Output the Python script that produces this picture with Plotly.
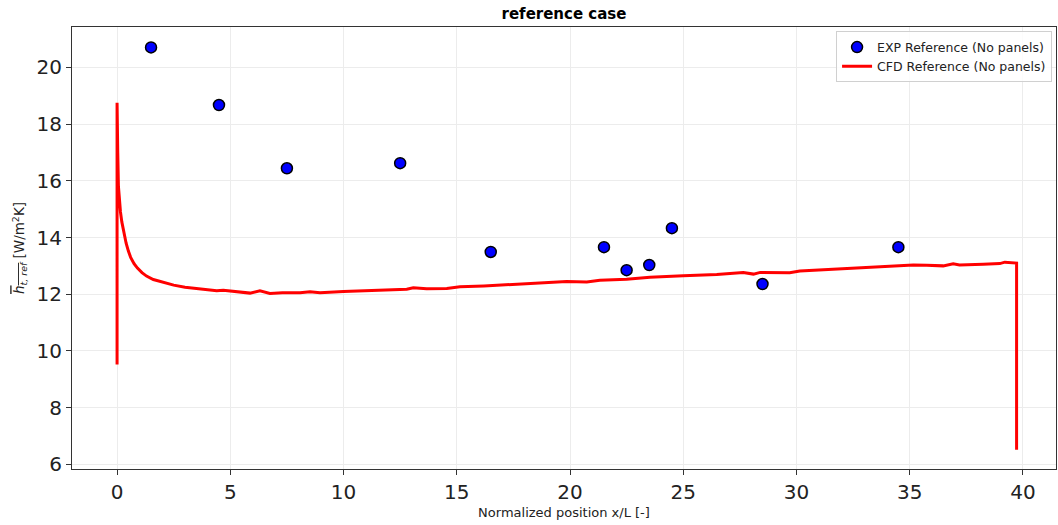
import plotly.graph_objects as go

# Experimental reference measurements (no panels)
exp_x = [1.5, 4.5, 7.5, 12.5, 16.5, 21.5, 22.5, 23.5, 24.5, 28.5, 34.5]
exp_h = [20.70, 18.67, 16.44, 16.62, 13.49, 13.66, 12.85, 13.03, 14.33, 12.36, 13.66]

# CFD reference profile (no panels)
cfd_x = [0.0, 0.0, 0.03, 0.06, 0.10, 0.15, 0.21, 0.30, 0.40, 0.50, 0.60, 0.75, 0.90,
         1.10, 1.30, 1.60, 2.00, 2.50, 3.00, 3.50, 4.00, 4.40, 4.69, 5.28, 5.87, 6.31,
         6.75, 7.30, 8.08, 8.52, 8.96, 10.0, 11.0, 12.0, 12.79, 13.08, 13.67, 14.56,
         15.14, 16.2, 16.9, 17.35, 18.37, 19.3, 19.85, 20.74, 21.32, 22.5, 23.53, 25.0,
         26.48, 27.65, 28.1, 28.4, 28.83, 29.7, 30.15, 31.2, 32.36, 34.1, 35.16, 35.75,
         36.48, 36.92, 37.2, 38.25, 38.98, 39.2, 39.56, 39.72, 39.72]
cfd_h = [9.52, 18.75, 17.00, 15.80, 15.30, 14.90, 14.55, 14.15, 13.80, 13.52, 13.30,
         13.08, 12.92, 12.76, 12.64, 12.52, 12.42, 12.32, 12.25, 12.20, 12.16, 12.12,
         12.14, 12.09, 12.04, 12.12, 12.03, 12.05, 12.05, 12.09, 12.05, 12.10, 12.12,
         12.15, 12.18, 12.23, 12.19, 12.20, 12.26, 12.29, 12.32, 12.34, 12.39, 12.42,
         12.45, 12.43, 12.49, 12.53, 12.60, 12.65, 12.70, 12.77, 12.71, 12.77, 12.77,
         12.76, 12.82, 12.86, 12.91, 12.97, 13.03, 13.02, 13.00, 13.07, 13.03, 13.06,
         13.08, 13.13, 13.10, 13.10, 6.52]

fig = go.Figure()

fig.add_trace(go.Scatter(
    x=exp_x, y=exp_h, mode="markers",
    name="EXP Reference (No panels)",
    marker=dict(color="#0000ff", size=11, line=dict(color="black", width=1.5)),
))

fig.add_trace(go.Scatter(
    x=cfd_x, y=cfd_h, mode="lines",
    name="CFD Reference (No panels)",
    line=dict(color="#ff0000", width=3),
))

axis_common = dict(
    showline=True, linecolor="#333333", linewidth=1.2, mirror=True,
    ticks="outside", ticklen=5, tickcolor="#333333",
    showgrid=True, gridcolor="#ececec", gridwidth=1,
    zeroline=False,
    tickfont=dict(family="DejaVu Sans", size=20, color="#222222"),
)

fig.update_layout(
    width=1058, height=525,
    margin=dict(l=72, r=2, t=27, b=56),
    paper_bgcolor="white", plot_bgcolor="white",
    font=dict(family="DejaVu Sans", color="#222222"),
    title=dict(text="<b>reference case</b>", x=0.5, xref="paper", xanchor="center",
               y=0.973, yanchor="middle", font=dict(size=15, color="black")),
    xaxis=dict(axis_common, range=[-1.99, 41.46], tickmode="array",
               tickvals=[0, 5, 10, 15, 20, 25, 30, 35, 40],
               title=dict(text="Normalized position x/L [-]", standoff=4,
                          font=dict(size=13, color="#222222"))),
    yaxis=dict(axis_common, range=[5.84, 21.42], tickmode="array",
               tickvals=[6, 8, 10, 12, 14, 16, 18, 20],
               title=dict(text="<span style=\"text-decoration:overline\"><i>h</i><sub><i>t, ref</i></sub></span> [W/m<sup>2</sup>K]",
                          standoff=8, font=dict(size=13.5, color="#222222"))),
    legend=dict(x=0.996, y=0.99, xanchor="right", yanchor="top",
                bgcolor="rgba(255,255,255,0.85)", bordercolor="#d0d0d0", borderwidth=1,
                font=dict(size=12.5, color="#222222"), tracegroupgap=0),
    showlegend=True,
)

fig.write_html("out.html")
